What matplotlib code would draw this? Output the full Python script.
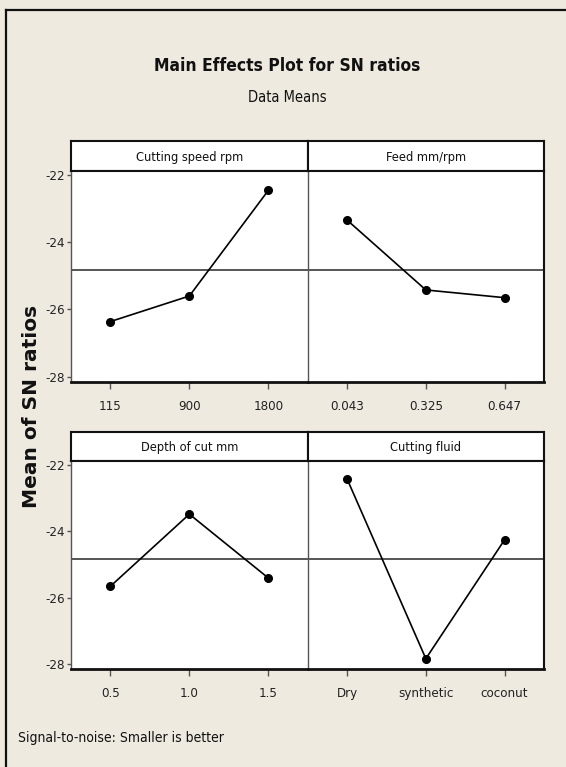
import matplotlib
matplotlib.use('Agg')
import matplotlib.pyplot as plt
import matplotlib.font_manager as fm
from matplotlib.lines import Line2D

# data
factors = ['Cutting speed rpm', 'Feed mm/rpm', 'Depth of cut mm', 'Cutting fluid']
levels = [['115', '900', '1800'],
          ['0.043', '0.325', '0.647'],
          ['0.5', '1.0', '1.5'],
          ['Dry', 'synthetic', 'coconut']]
speed_sn = [-26.36, -25.60, -22.46]
feed_sn = [-23.34, -25.42, -25.65]
depth_sn = [-25.65, -23.48, -25.40]
fluid_sn = [-22.42, -27.83, -24.25]
means = [speed_sn, feed_sn, depth_sn, fluid_sn]
yticks = [-28, -26, -24, -22]

names = {f.name for f in fm.fontManager.ttflist}
narrow = 'Liberation Sans Narrow' if 'Liberation Sans Narrow' in names else 'DejaVu Sans'
stretch = 'normal' if narrow == 'Liberation Sans Narrow' else 'condensed'

W, H = 566, 767
bg = '#EEEAE0'
fig = plt.figure(figsize=(W / 100, H / 100), dpi=100)
fig.patch.set_facecolor(bg)


def box(x0, y0, x1, y1):
    return [x0 / W, 1 - y1 / H, (x1 - x0) / W, (y1 - y0) / H]


# outer frame (left and top edge visible)
fig.add_artist(Line2D([6 / W, 6 / W], [0, 1 - 10 / H], color='#111', lw=1.6))
fig.add_artist(Line2D([6 / W, 1], [1 - 10 / H, 1 - 10 / H], color='#111', lw=1.6))

overall = sum(sum(m) for m in means) / 12

cols = [(71, 307.7), (307.7, 544)]
rows = [(141, 171, 381.7), (431.7, 461, 669.3)]

for i in range(4):
    r, c = divmod(i, 2)
    x0, x1 = cols[c]
    s0, s1, b = rows[r]

    st = fig.add_axes(box(x0, s0, x1, s1))
    st.set_facecolor('white')
    st.set_xticks([])
    st.set_yticks([])
    for sp in st.spines.values():
        sp.set_color('#111')
        sp.set_linewidth(1.5)
    st.text(0.5, 0.45, factors[i], ha='center', va='center', fontsize=9.2,
            family=narrow, fontstretch=stretch, color='#111', transform=st.transAxes)

    ax = fig.add_axes(box(x0, s1, x1, b))
    ax.set_facecolor('white')
    ax.axhline(overall, color='#555', lw=1.4, zorder=1)
    ax.plot([1, 2, 3], means[i], color='black', lw=1.2, marker='o', ms=5.5, zorder=3)
    ax.set_xlim(0.5, 3.5)
    ax.set_ylim(-28.15, -21.88)
    ax.set_xticks([1, 2, 3])
    ax.set_xticklabels(levels[i], family=narrow, fontstretch=stretch, fontsize=9.5, color='#222')
    ax.tick_params(axis='x', length=5, width=1, color='#555', pad=8)
    ax.spines['top'].set_color('#111')
    ax.spines['top'].set_linewidth(1.5)
    ax.spines['bottom'].set_color('#111')
    ax.spines['bottom'].set_linewidth(2)
    ax.spines['left'].set_color('#555')
    ax.spines['left'].set_linewidth(1)
    if c == 0:
        ax.spines['right'].set_visible(False)
        ax.set_yticks(yticks)
        ax.set_yticklabels([str(t) for t in yticks], family=narrow, fontstretch=stretch,
                           fontsize=9.5, color='#222')
        ax.tick_params(axis='y', length=3, width=1, color='#555', pad=1.5)
    else:
        ax.spines['right'].set_color('#111')
        ax.spines['right'].set_linewidth(1.5)
        ax.set_yticks([])

fig.text(287 / W, 1 - 66 / H, 'Main Effects Plot for SN ratios', ha='center', va='center',
         fontsize=12.5, fontweight='bold', family=narrow, fontstretch=stretch, color='#111')
fig.text(287 / W, 1 - 98 / H, 'Data Means', ha='center', va='center',
         fontsize=10.5, family=narrow, fontstretch=stretch, color='#111')
fig.text(32 / W, 1 - 406 / H, 'Mean of SN ratios', ha='center', va='center', rotation=90,
         fontsize=14.5, fontweight='bold', family='DejaVu Sans', color='#111')
fig.text(18 / W, 1 - 738 / H, 'Signal-to-noise: Smaller is better', ha='left', va='center',
         fontsize=10, family=narrow, fontstretch=stretch, color='#111')

fig.savefig('out.png', dpi=100, facecolor=bg)
